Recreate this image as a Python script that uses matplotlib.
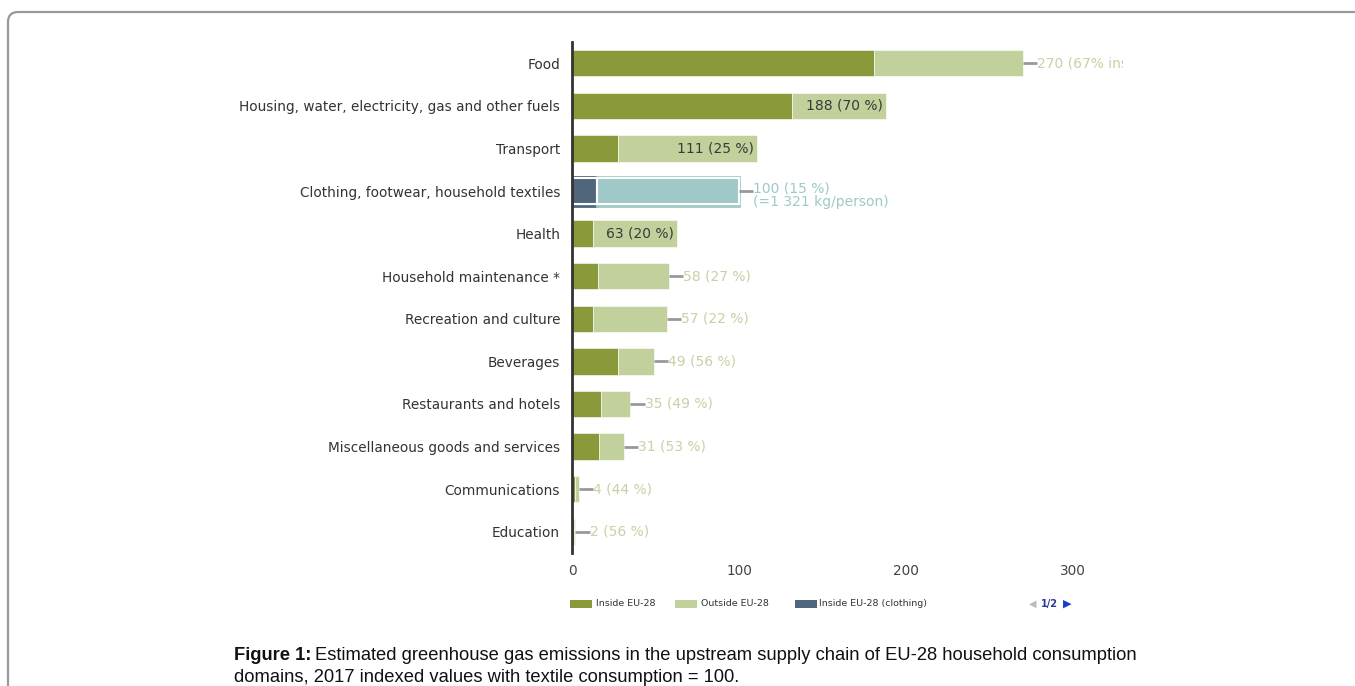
import matplotlib
matplotlib.use("Agg")
import matplotlib.pyplot as plt
from matplotlib.patches import FancyBboxPatch, Rectangle

categories = ["Food", "Housing, water, electricity, gas and other fuels", "Transport",
              "Clothing, footwear, household textiles", "Health", "Household maintenance *",
              "Recreation and culture", "Beverages", "Restaurants and hotels",
              "Miscellaneous goods and services", "Communications", "Education"]
totals = [270, 188, 111, 100, 63, 58, 57, 49, 35, 31, 4, 2]
inside_pct = [67, 70, 25, 15, 20, 27, 22, 56, 49, 53, 44, 56]
value_labels = ["270 (67% inside EU-28)", "188 (70 %)", "111 (25 %)", "100 (15 %)\n(=1 321 kg/person)",
                "63 (20 %)", "58 (27 %)", "57 (22 %)", "49 (56 %)", "35 (49 %)", "31 (53 %)",
                "4 (44 %)", "2 (56 %)"]
x_ticks = [0, 100, 200, 300]
legend_labels = ["Inside EU-28", "Outside EU-28", "Inside EU-28 (clothing)"]
highlight = "Clothing, footwear, household textiles"
labels_inside_bar = {"Housing, water, electricity, gas and other fuels", "Transport", "Health"}

C_IN = "#8a9a3a"
C_OUT = "#c2d09c"
C_CL_IN = "#4f667c"
C_CL_OUT = "#9fc8c8"
C_LBL_OUT = "#c9d0a4"
FONT = "DejaVu Sans"

W, H = 1355, 686
fig = plt.figure(figsize=(W / 100, H / 100), dpi=100)

# rounded frame
frame = FancyBboxPatch((0.08, -1.0), 15.0, (H - 12) / 100 + 1.0,
                       boxstyle="round,pad=0,rounding_size=0.1",
                       transform=fig.dpi_scale_trans, facecolor="none",
                       edgecolor="#9a9a9a", linewidth=1.6, clip_on=False)
fig.patches.append(frame)

ax_l, ax_r, ax_t, ax_b = 572, 1123, 42, 553
ax = fig.add_axes([ax_l / W, 1 - ax_b / H, (ax_r - ax_l) / W, (ax_b - ax_t) / H])
ppu = (1073 - 572) / 300.0
ax.set_xlim(0, (ax_r - ax_l) / ppu)
n = len(categories)
ax.set_ylim(n - 0.5, -0.5)

bh = 0.62
for i, (cat, tot, pct, lab) in enumerate(zip(categories, totals, inside_pct, value_labels)):
    inside = tot * pct / 100.0
    outside = tot - inside
    if cat == highlight:
        ax.barh(i, inside, height=bh, color=C_CL_IN, edgecolor="white", linewidth=1.5, zorder=3)
        ax.barh(i, outside, left=inside, height=bh, color=C_CL_OUT, edgecolor="white", linewidth=1.5, zorder=3)
        ax.add_patch(Rectangle((0, i - bh / 2 - 0.03), inside, bh + 0.06, facecolor="none",
                               edgecolor=C_CL_IN, linewidth=2.0, zorder=2))
        ax.add_patch(Rectangle((inside, i - bh / 2 - 0.03), outside, bh + 0.06, facecolor="none",
                               edgecolor=C_CL_OUT, linewidth=2.0, zorder=2))
    else:
        ax.barh(i, inside, height=bh, color=C_IN, edgecolor="white", linewidth=0.4, zorder=3)
        ax.barh(i, outside, left=inside, height=bh, color=C_OUT, edgecolor="white", linewidth=0.4, zorder=3)

    if cat in labels_inside_bar:
        ax.text(tot - 2.0, i, lab, ha="right", va="center", fontsize=10, color="#3a3a3a",
                family=FONT, zorder=4)
    else:
        ax.plot([tot, tot + 8.5], [i, i], color="#999999", linewidth=2, zorder=4, solid_capstyle="butt")
        col = C_CL_OUT if cat == highlight else C_LBL_OUT
        ax.text(tot + 8.5, i + (0.1 if cat == highlight else 0), lab, ha="left", va="center",
                fontsize=10, color=col, family=FONT, zorder=4, clip_on=True, linespacing=0.95)

ax.set_yticks(range(n))
ax.set_yticklabels(categories, fontsize=9.8, color="#333333", family=FONT)
ax.set_xticks(x_ticks)
ax.set_xticklabels([str(t) for t in x_ticks], fontsize=9.8, color="#444444", family=FONT)
ax.tick_params(axis="both", length=0)
ax.tick_params(axis="y", pad=8.5)
ax.tick_params(axis="x", pad=8)
for s in ["top", "right", "bottom"]:
    ax.spines[s].set_visible(False)
ax.spines["left"].set_color("#333333")
ax.spines["left"].set_linewidth(2)
ax.spines["left"].set_zorder(5)

# legend
ly = 1 - 604 / H
for (px, tx, col, lab) in [(570, 596, C_IN, legend_labels[0]),
                            (675, 701, C_OUT, legend_labels[1]),
                            (795, 819, C_CL_IN, legend_labels[2])]:
    fig.patches.append(Rectangle((px / W, 1 - 608 / H), 22 / W, 8 / H, transform=fig.transFigure,
                                 facecolor=col, edgecolor="none"))
    fig.text(tx / W, ly, lab, fontsize=6.8, color="#333333", family=FONT, va="center", ha="left")
fig.text(1033 / W, ly, "\u25C0", fontsize=7, color="#bbbbbb", family=FONT, va="center", ha="center")
fig.text(1049 / W, ly, "1/2", fontsize=7, color="#2a3a9a", family=FONT, va="center", ha="center",
         fontweight="bold")
fig.text(1067 / W, ly, "\u25B6", fontsize=8, color="#1a3ad0", family=FONT, va="center", ha="center")

# caption
cap_font = "Liberation Sans"
cs = 13.2
t1 = fig.text(234 / W, 1 - 655 / H, "Figure 1:", fontsize=cs, fontweight="bold",
              family=cap_font, va="center", ha="left", color="#111111")
fig.canvas.draw()
bb = t1.get_window_extent()
fig.text((bb.x1 + 4) / W, 1 - 655 / H,
         "Estimated greenhouse gas emissions in the upstream supply chain of EU-28 household consumption",
         fontsize=cs, family=cap_font, va="center", ha="left", color="#111111")
fig.text(234 / W, 1 - 677 / H, "domains, 2017 indexed values with textile consumption = 100.",
         fontsize=cs, family=cap_font, va="center", ha="left", color="#111111")

fig.savefig("out.png", dpi=100, facecolor="white")
